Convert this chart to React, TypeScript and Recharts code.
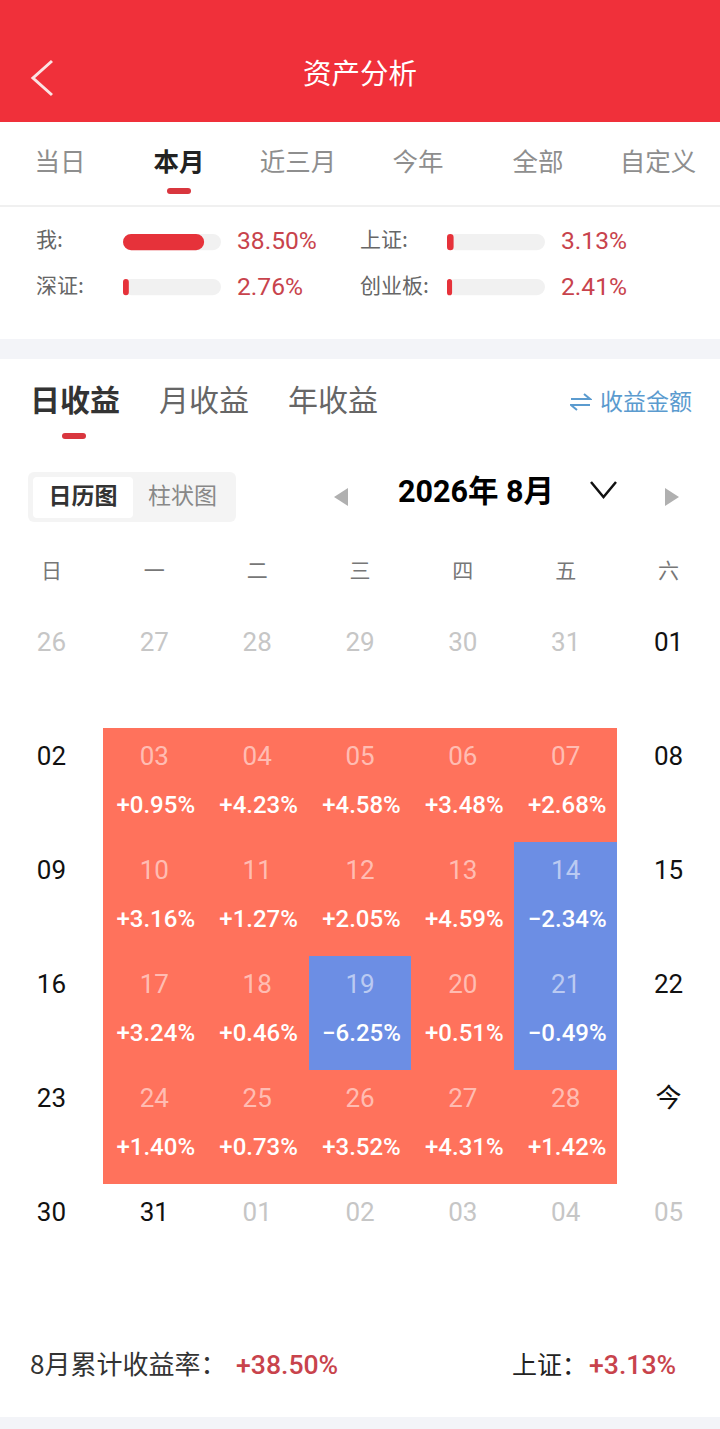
import { Bar, BarChart, Scatter, ScatterChart, XAxis, YAxis } from "recharts";

const FONT = 'Roboto, "Noto Sans CJK SC", sans-serif';
const CJK = '"Noto Sans CJK SC", sans-serif';

const rangeTabs = ["当日", "本月", "近三月", "今年", "全部", "自定义"];
const rangeTabCenters = [60, 179, 298, 418, 538, 658];
const compareNames = ["我:", "上证:", "深证:", "创业板:"];
const compareValues = [38.5, 3.13, 2.76, 2.41];

const weekdays = ["日", "一", "二", "三", "四", "五", "六"];
const weekTicks = [0, 1, 2, 3, 4, 5, 6];
const dayLabels = [
  "26", "27", "28", "29", "30", "31", "01",
  "02", "03", "04", "05", "06", "07", "08",
  "09", "10", "11", "12", "13", "14", "15",
  "16", "17", "18", "19", "20", "21", "22",
  "23", "24", "25", "26", "27", "28", "今",
  "30", "31", "01", "02", "03", "04", "05",
];
// 1 = belongs to the shown month
const inMonth = [
  0, 0, 0, 0, 0, 0, 1,
  1, 1, 1, 1, 1, 1, 1,
  1, 1, 1, 1, 1, 1, 1,
  1, 1, 1, 1, 1, 1, 1,
  1, 1, 1, 1, 1, 1, 1,
  1, 1, 0, 0, 0, 0, 0,
];
const dailyReturns: (number | null)[] = [
  null, null, null, null, null, null, null,
  null, 0.95, 4.23, 4.58, 3.48, 2.68, null,
  null, 3.16, 1.27, 2.05, 4.59, -2.34, null,
  null, 3.24, 0.46, -6.25, 0.51, -0.49, null,
  null, 1.4, 0.73, 3.52, 4.31, 1.42, null,
  null, null, null, null, null, null, null,
];

const cells = dayLabels.map((label, i) => ({
  col: i % 7,
  row: Math.floor(i / 7),
  label,
  muted: !inMonth[i],
  value: dailyReturns[i],
}));

const RED = "#c8434c";
const CELL_W = 720 / 7;
const CELL_H = 114;

function Txt({ x, y, size, color, weight, anchor, font, children }: any) {
  const shift = anchor === "middle" ? "-50%" : anchor === "end" ? "-100%" : "0";
  return (
    <div
      style={{
        position: "absolute",
        left: x,
        top: y,
        transform: `translate(${shift}, -50%)`,
        fontSize: size,
        color,
        fontWeight: weight || 400,
        fontFamily: font || FONT,
        whiteSpace: "pre",
        lineHeight: 1.2,
      }}
    >
      {children}
    </div>
  );
}

function Box({ x, y, w, h, bg, r }: any) {
  return (
    <div style={{ position: "absolute", left: x, top: y, width: w, height: h, background: bg, borderRadius: r || 0 }} />
  );
}

function CompareBar({ value, x, y }: any) {
  return (
    <div style={{ position: "absolute", left: x, top: y }}>
      <BarChart
        width={98}
        height={18}
        layout="vertical"
        data={[{ name: "v", value }]}
        margin={{ top: 0, right: 0, bottom: 0, left: 0 }}
      >
        <XAxis type="number" domain={[0, 46.5]} hide />
        <YAxis type="category" dataKey="name" hide />
        <Bar
          dataKey="value"
          fill="#e6323a"
          barSize={18}
          radius={9}
          background={{ fill: "#f1f1f1", radius: 9 } as any}
          isAnimationActive={false}
        />
      </BarChart>
    </div>
  );
}

function DayCell(props: any) {
  const { cx, cy, payload } = props;
  const v = payload.value;
  const hasValue = v !== null;
  const dateColor = hasValue ? "rgba(255,255,255,0.55)" : payload.muted ? "#c6c6c6" : "#111";
  return (
    <g>
      {hasValue && (
        <rect
          x={cx - CELL_W / 2}
          y={cy - CELL_H / 2}
          width={CELL_W}
          height={CELL_H}
          fill={v > 0 ? "#ff725c" : "#6c8ee4"}
          shapeRendering="crispEdges"
        />
      )}
      <text x={cx} y={cy - 29.5} textAnchor="middle" dominantBaseline="central" fontSize={26} fill={dateColor} fontFamily={FONT}>
        {payload.label}
      </text>
      {hasValue && (
        <text x={cx + 1.5} y={cy + 20} textAnchor="middle" dominantBaseline="central" fontSize={24} fontWeight={500} fill="#fff" fontFamily={FONT}>
          {(v > 0 ? "+" : "−") + Math.abs(v).toFixed(2) + "%"}
        </text>
      )}
    </g>
  );
}

export default function App() {
  return (
    <div style={{ position: "absolute", left: 0, top: 0, width: 720, height: 1429, background: "#fff", overflow: "hidden" }}>
      <Box x={0} y={0} w={720} h={122} bg="#f0303a" />
      <svg style={{ position: "absolute", left: 0, top: 0 }} width={720} height={122}>
        <polyline points="52,61 33,78 52,95" fill="none" stroke="#fbe3e3" strokeWidth={3} />
      </svg>
      <Txt x={360} y={71.5} size={28.5} color="#fff" anchor="middle" font={CJK}>资产分析</Txt>

      {rangeTabs.map((t, i) => (
        <Txt key={t} x={rangeTabCenters[i]} y={160} size={25.5} anchor="middle" font={CJK} color={i === 1 ? "#222" : "#8e8e8e"} weight={i === 1 ? 700 : 400}>
          {t}
        </Txt>
      ))}
      <Box x={167} y={188} w={24} h={6} r={3} bg="#d9363e" />
      <Box x={0} y={205} w={720} h={2} bg="#f0f0f0" />

      <Txt x={36} y={239} size={21} color="#666" font={CJK}>{compareNames[0]}</Txt>
      <Txt x={360} y={239} size={21} color="#666" font={CJK}>{compareNames[1]}</Txt>
      <Txt x={36} y={285} size={21} color="#666" font={CJK}>{compareNames[2]}</Txt>
      <Txt x={360} y={285} size={21} color="#666" font={CJK}>{compareNames[3]}</Txt>
      <CompareBar value={compareValues[0]} x={123} y={233} />
      <CompareBar value={compareValues[1]} x={447} y={233} />
      <CompareBar value={compareValues[2]} x={123} y={278} />
      <CompareBar value={compareValues[3]} x={447} y={278} />
      <Txt x={237} y={241} size={24.6} color={RED}>{compareValues[0].toFixed(2)}%</Txt>
      <Txt x={561} y={241} size={24.6} color={RED}>{compareValues[1].toFixed(2)}%</Txt>
      <Txt x={237} y={287} size={24.6} color={RED}>{compareValues[2].toFixed(2)}%</Txt>
      <Txt x={561} y={287} size={24.6} color={RED}>{compareValues[3].toFixed(2)}%</Txt>

      <Box x={0} y={339} w={720} h={20} bg="#f3f4f8" />

      <Txt x={30} y={398} size={30} color="#333" weight={700} font={CJK}>日收益</Txt>
      <Txt x={159} y={398} size={30} color="#666" font={CJK}>月收益</Txt>
      <Txt x={288} y={398} size={30} color="#666" font={CJK}>年收益</Txt>
      <Box x={62} y={433} w={24} h={6} r={3} bg="#d9363e" />
      <svg style={{ position: "absolute", left: 570, top: 392 }} width={22} height={20}>
        <path d="M1 7 H20 L14 2 M20 13 H1 L7 18" fill="none" stroke="#5b9bcf" strokeWidth={2} />
      </svg>
      <Txt x={600} y={401} size={23} color="#5b9bcf" font={CJK}>收益金额</Txt>

      <Box x={28} y={472} w={208} h={50} r={6} bg="#f4f4f4" />
      <Box x={33} y={477} w={100} h={41} r={4} bg="#fff" />
      <Txt x={83} y={495} size={23} color="#333" weight={700} anchor="middle" font={CJK}>日历图</Txt>
      <Txt x={182.5} y={495} size={23} color="#888" anchor="middle" font={CJK}>柱状图</Txt>

      <svg style={{ position: "absolute", left: 0, top: 470 }} width={720} height={50}>
        <polygon points="348,18 348,36 334,27" fill="#b0b0b0" />
        <polygon points="665,18 665,36 679,27" fill="#b0b0b0" />
        <polyline points="591,12 603.5,27 616,12" fill="none" stroke="#111" strokeWidth={2.5} />
      </svg>
      <Txt x={398} y={492} size={30.5} color="#000" weight={700}>2026年 8月</Txt>

      <div style={{ position: "absolute", left: 0, top: 540 }}>
        <ScatterChart width={720} height={758} margin={{ top: 0, right: 0, bottom: 0, left: 0 }}>
          <XAxis
            xAxisId={0}
            type="number"
            dataKey="col"
            orientation="top"
            height={74}
            domain={[-0.5, 6.5]}
            ticks={weekTicks}
            interval={0}
            tickFormatter={(v: number) => weekdays[v]}
            axisLine={false}
            tickLine={false}
            tickSize={0}
            tickMargin={36}
            tick={{ fontSize: 21, fill: "#777", fontFamily: CJK }}
          />
          <YAxis yAxisId={0} type="number" dataKey="row" domain={[-0.5, 5.5]} reversed hide />
          <Scatter data={cells} shape={DayCell} isAnimationActive={false} />
        </ScatterChart>
      </div>

      <Txt x={30} y={1363} size={26} color="#333" font={CJK}>8月累计收益率：</Txt>
      <Txt x={236} y={1365} size={26.6} color={RED} weight={500}>+38.50%</Txt>
      <Txt x={512} y={1363} size={25} color="#222" font={CJK}>上证：</Txt>
      <Txt x={589} y={1365} size={26.6} color={RED} weight={500}>+3.13%</Txt>

      <Box x={0} y={1417} w={720} h={12} bg="#f3f4f8" />
    </div>
  );
}
